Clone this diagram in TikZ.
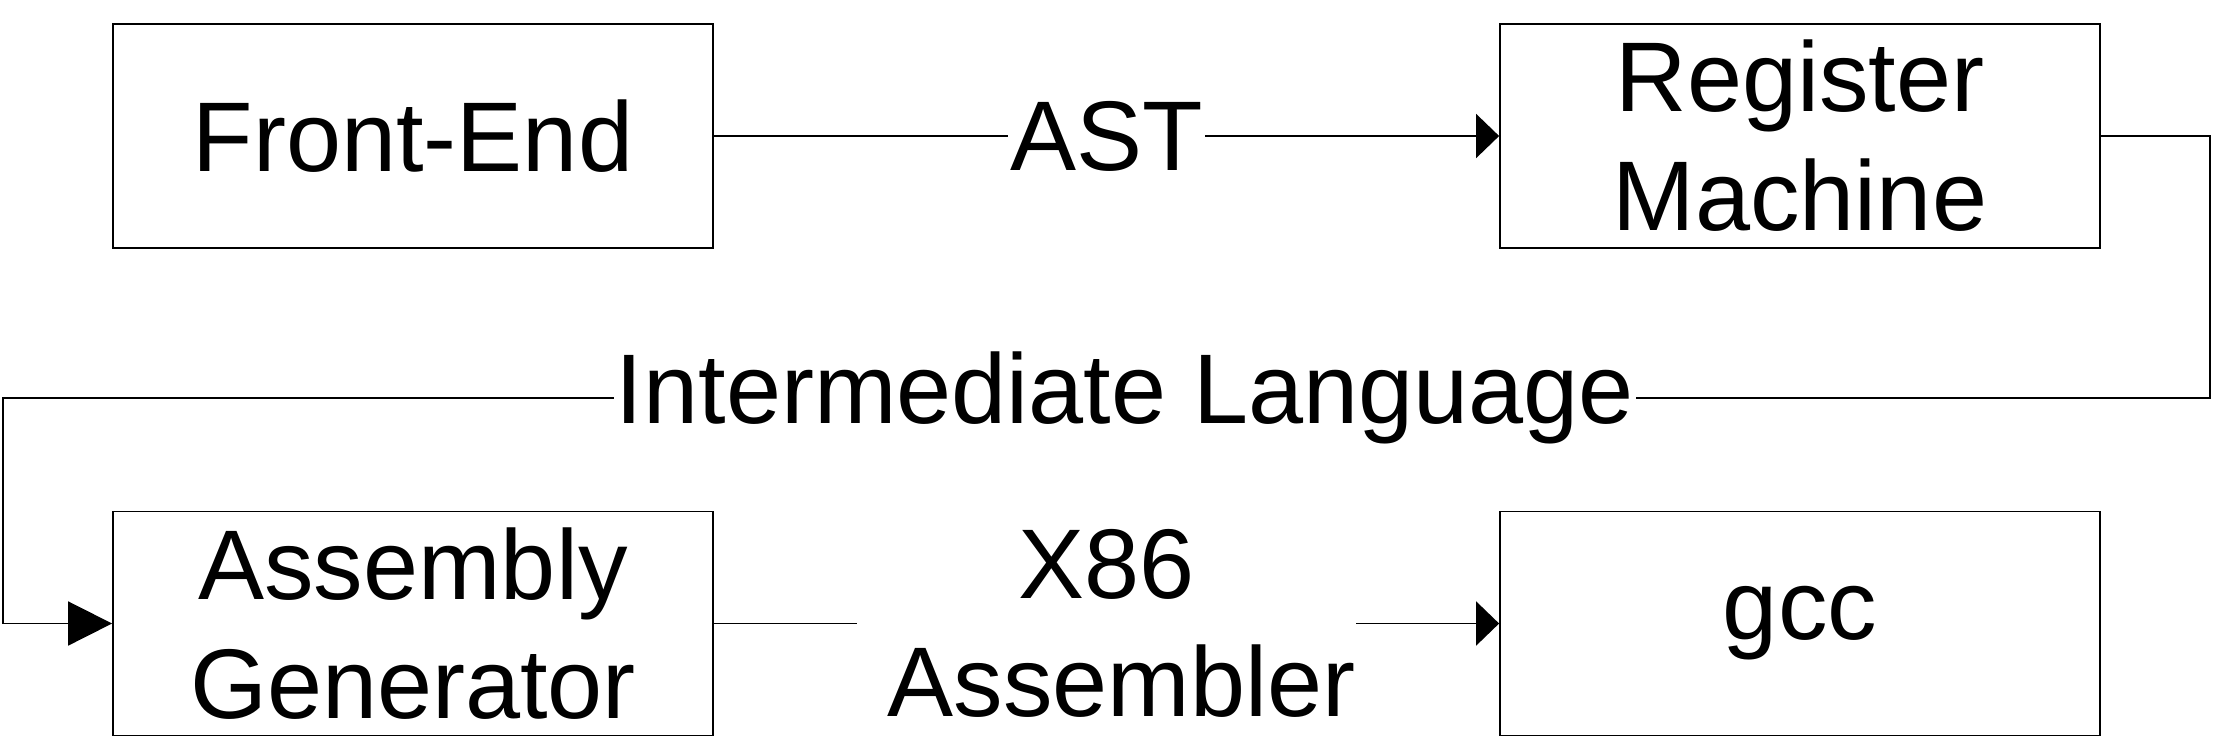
\documentclass[tikz,border=0pt]{standalone}
\usepackage{fontspec}
\setmainfont{Liberation Sans}
\usetikzlibrary{arrows.meta}
\begin{document}
\begin{tikzpicture}[x=0.5pt,y=-0.5pt,
  every node/.style={font=\fontsize{49.5}{59.4}\selectfont},
  box/.style={draw,line width=0.9pt,minimum width=300pt,minimum height=112pt,inner sep=0pt,align=center},
  lbl/.style={fill=white,inner sep=1pt,align=center},
  conn/.style={line width=0.9pt},
  tipsmall/.style={-{Triangle[length=11.5pt,width=22pt]}},
  tipbig/.style={-{Triangle[length=22pt,width=22pt]}}]
\useasboundingbox (0,0) rectangle (2214,745);
\node[box] (fe) at (413,136) {Front-End};
\node[box] (rm) at (1800,136) {Register\\Machine};
\node[box] (ag) at (413,623.5) {Assembly\\Generator};
\node[box] (gcc) at (1800,623.5) {gcc};
\draw[conn,tipsmall] (fe) -- node[lbl] (ast) {AST} (rm);
\draw[conn,tipbig] (rm.east) -- (2210,136) -- (2210,398) -- node[lbl,pos=0.4916] (il) {Intermediate Language} (3,398) -- (3,623.5) -- (ag.west);
\draw[conn,tipsmall] (ag) -- node[lbl,inner sep=0.5pt] (x86) {X86\\\hspace*{15pt}Assembler} (gcc);
\end{tikzpicture}
\end{document}
